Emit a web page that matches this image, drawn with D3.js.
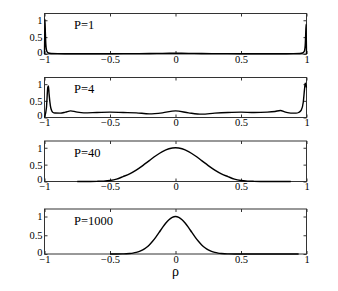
<!DOCTYPE html>
<html>
<head>
<meta charset="utf-8">
<script src="https://cdn.jsdelivr.net/npm/d3@7"></script>
<style>
  body { margin: 0; background: #fff; }
</style>
</head>
<body>
<div id="chart"></div>
<script>
// density of rho for each P
const rho1 = [-1, -0.997, -0.993, -0.99, -0.985, -0.98, -0.97, -0.95, -0.9, -0.8, -0.6, -0.4, -0.2, -0.1, 0, 0.1, 0.2, 0.4, 0.6, 0.8, 0.9, 0.95, 0.97, 0.98, 0.985, 0.99, 0.993, 0.997, 1];
const dens1 = [0, 1.03, 0.6, 0.3, 0.12, 0.06, 0.03, 0.015, 0.01, 0.008, 0.008, 0.01, 0.015, 0.02, 0.022, 0.02, 0.015, 0.01, 0.008, 0.008, 0.01, 0.015, 0.03, 0.06, 0.1, 0.25, 0.5, 0.88, 0];

const rho2 = [-1, -0.985, -0.975, -0.97, -0.965, -0.955, -0.945, -0.935, -0.92, -0.88, -0.84, -0.8, -0.76, -0.7, -0.6, -0.5, -0.4, -0.3, -0.2, -0.1, 0, 0.1, 0.2, 0.3, 0.4, 0.5, 0.6, 0.7, 0.76, 0.8, 0.84, 0.88, 0.92, 0.94, 0.96, 0.975, 0.985, 0.99, 1];
const dens2 = [0, 0.3, 0.9, 0.95, 0.7, 0.35, 0.2, 0.15, 0.135, 0.13, 0.16, 0.2, 0.17, 0.14, 0.15, 0.16, 0.15, 0.14, 0.11, 0.14, 0.2, 0.14, 0.1, 0.13, 0.15, 0.16, 0.15, 0.16, 0.18, 0.21, 0.16, 0.13, 0.13, 0.15, 0.22, 0.45, 0.85, 1.03, 0.9];

const rho3 = [-0.75, -0.7, -0.65, -0.6, -0.55, -0.5, -0.45, -0.4, -0.35, -0.3, -0.25, -0.2, -0.15, -0.1, -0.05, 0, 0.05, 0.1, 0.15, 0.2, 0.25, 0.3, 0.35, 0.4, 0.45, 0.5, 0.55, 0.6, 0.65, 0.7, 0.75, 0.8, 0.85, 0.88];
const dens3 = [0, 0.001, 0.002, 0.005, 0.012, 0.03, 0.07, 0.146, 0.229, 0.339, 0.472, 0.618, 0.763, 0.887, 0.97, 1, 0.97, 0.887, 0.763, 0.618, 0.472, 0.339, 0.229, 0.146, 0.07, 0.03, 0.012, 0.005, 0.002, 0.001, 0, 0, 0, 0];

const rho4 = [-0.5, -0.45, -0.4, -0.375, -0.35, -0.325, -0.3, -0.275, -0.25, -0.225, -0.2, -0.175, -0.15, -0.125, -0.1, -0.075, -0.05, -0.025, 0, 0.025, 0.05, 0.075, 0.1, 0.125, 0.15, 0.175, 0.2, 0.225, 0.25, 0.275, 0.3, 0.325, 0.35, 0.375, 0.4, 0.45, 0.5, 0.6, 0.7, 0.8, 0.94];
const dens4 = [0, 0, 0.004, 0.007, 0.013, 0.024, 0.042, 0.069, 0.11, 0.167, 0.243, 0.339, 0.452, 0.576, 0.702, 0.82, 0.915, 0.978, 1, 0.978, 0.915, 0.82, 0.702, 0.576, 0.452, 0.339, 0.243, 0.167, 0.11, 0.069, 0.042, 0.024, 0.013, 0.007, 0.004, 0, 0, 0, 0, 0, 0];

const panelLabels = ['P=1', 'P=4', 'P=40', 'P=1000'];
const xTicks = [-1, -0.5, 0, 0.5, 1];
const yTicks = [0, 0.5, 1];
const xLabel = 'ρ';

const width = 338;
const height = 291;
const left = 44.5;
const right = 306.5;
const serif = "'Liberation Serif', 'Times New Roman', serif";
// top / bottom of each subplot box
const boxes = [
  { top: 13.5, bottom: 54 },
  { top: 77.5, bottom: 117.5 },
  { top: 141, bottom: 181.5 },
  { top: 209, bottom: 254 },
];

const series = [
  rho1.map((r, i) => [r, dens1[i]]),
  rho2.map((r, i) => [r, dens2[i]]),
  rho3.map((r, i) => [r, dens3[i]]),
  rho4.map((r, i) => [r, dens4[i]]),
];

const svg = d3
  .select('#chart')
  .append('svg')
  .attr('width', width)
  .attr('height', height);

const xScale = d3.scaleLinear().domain([-1, 1]).range([left, right]);
const fmt = d3.format('~g');

boxes.forEach((b, i) => {
  const yScale = d3.scaleLinear().domain([0, 1.2]).range([b.bottom, b.top]);
  const g = svg.append('g');

  // box
  g.append('rect')
    .attr('x', left)
    .attr('y', b.top)
    .attr('width', right - left)
    .attr('height', b.bottom - b.top)
    .attr('fill', 'none')
    .attr('stroke', '#333')
    .attr('stroke-width', 1);

  // axes, ticks pointing inward on all four sides
  const axes = [
    { ax: d3.axisBottom(xScale).tickValues(xTicks).tickFormat(fmt), t: `translate(0,${b.bottom})` },
    { ax: d3.axisTop(xScale).tickValues(xTicks).tickFormat(''), t: `translate(0,${b.top})` },
    { ax: d3.axisLeft(yScale).tickValues(yTicks).tickFormat(fmt), t: `translate(${left},0)` },
    { ax: d3.axisRight(yScale).tickValues(yTicks).tickFormat(''), t: `translate(${right},0)` },
  ];
  axes.forEach((a, k) => {
    const ag = g.append('g')
      .attr('transform', a.t)
      .call(a.ax.tickSize(-3).tickPadding(k === 0 ? 1.5 : 2));
    ag.select('.domain').remove();
    ag.selectAll('line').attr('stroke', '#333');
    ag.selectAll('text')
      .style('font-family', serif)
      .style('font-size', '10.5px')
      .attr('fill', '#000');
    // lift the y "0" a little, it sits right on top of the x "-1"
    if (k === 2) {
      ag.selectAll('text').filter((d) => d === 0).attr('dy', '0.1em');
    }
  });

  // curve
  g.append('path')
    .datum(series[i])
    .attr('fill', 'none')
    .attr('stroke', '#000')
    .attr('stroke-width', 1.4)
    .attr('stroke-linejoin', 'round')
    .attr('d', d3.line()
      .x((d) => xScale(d[0]))
      .y((d) => yScale(d[1]))
      .curve(d3.curveMonotoneX));

  // panel label
  g.append('text')
    .attr('x', 74)
    .attr('y', b.top + 15.5)
    .style('font-family', serif)
    .style('font-size', '12.5px')
    .text(panelLabels[i]);
});

// x label
svg.append('text')
  .attr('x', xScale(0))
  .attr('y', 276)
  .attr('text-anchor', 'middle')
  .style('font-family', serif)
  .style('font-size', '14px')
  .text(xLabel);
</script>
</body>
</html>
